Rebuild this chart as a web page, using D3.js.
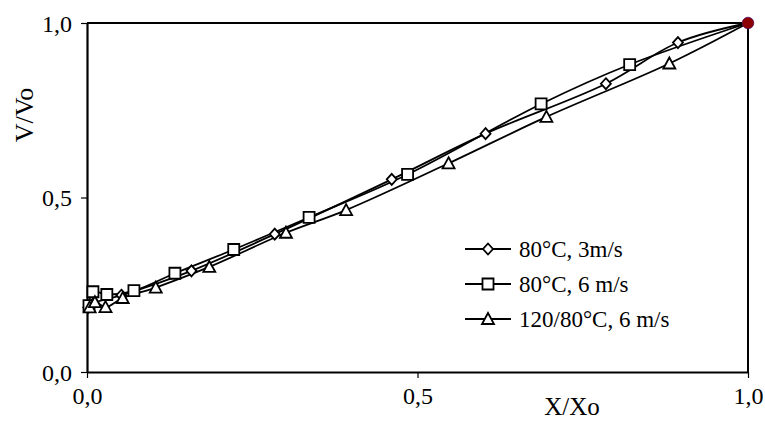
<!DOCTYPE html>
<html>
<head>
<meta charset="utf-8">
<script src="https://cdn.jsdelivr.net/npm/d3@7"></script>
<style>
  body { margin: 0; background: #fff; }
  svg text { font-family: "Liberation Serif", "Times New Roman", serif; fill: #000; }
</style>
</head>
<body>
<div id="chart"></div>
<script>
// Daten (X/Xo, V/Vo)
const seriesNames = ['80°C, 3m/s', '80°C, 6 m/s', '120/80°C, 6 m/s'];
const markerTypes = ['diamond', 'square', 'triangle'];

const diamondX = [0.002, 0.010, 0.052, 0.158, 0.284, 0.461, 0.603, 0.785, 0.894, 1.0];
const diamondY = [0.185, 0.197, 0.220, 0.290, 0.395, 0.552, 0.683, 0.826, 0.944, 1.0];

const squareX = [0.003, 0.009, 0.030, 0.071, 0.133, 0.222, 0.336, 0.485, 0.687, 0.821, 1.0];
const squareY = [0.190, 0.230, 0.222, 0.233, 0.283, 0.351, 0.443, 0.566, 0.768, 0.881, 1.0];

const triangleX = [0.004, 0.012, 0.028, 0.054, 0.104, 0.185, 0.301, 0.392, 0.547, 0.695, 0.881, 1.0];
const triangleY = [0.185, 0.200, 0.186, 0.212, 0.242, 0.301, 0.399, 0.464, 0.598, 0.731, 0.884, 1.0];

const xTicks = [0, 0.5, 1];
const yTicks = [0, 0.5, 1];
const endPoint = [1.0, 1.0];

const seriesData = [
  diamondX.map((x, i) => ({ x, y: diamondY[i] })),
  squareX.map((x, i) => ({ x, y: squareY[i] })),
  triangleX.map((x, i) => ({ x, y: triangleY[i] }))
];

// Abmessungen
const width = 765, height = 421;
const margin = { top: 23, right: 17, bottom: 49, left: 87 };
const innerW = width - margin.left - margin.right,
      innerH = height - margin.top - margin.bottom;

const svg = d3.select('#chart')
  .append('svg')
  .attr('width', width)
  .attr('height', height);

const g = svg.append('g')
  .attr('transform', `translate(${margin.left},${margin.top})`);

const x = d3.scaleLinear().domain([0, 1]).range([0, innerW]);
const y = d3.scaleLinear().domain([0, 1]).range([innerH, 0]);

const fmt = d => d3.format('.1f')(d).replace('.', ',');

// Rahmen oben und rechts
g.append('path')
  .attr('d', `M0,0H${innerW}V${innerH}`)
  .attr('fill', 'none')
  .attr('stroke', '#000')
  .attr('stroke-width', 2);

// Achsen
const xAxis = g.append('g')
  .attr('transform', `translate(0,${innerH})`)
  .call(d3.axisBottom(x).tickValues(xTicks).tickSize(6).tickSizeOuter(0).tickFormat(fmt));
const yAxis = g.append('g')
  .call(d3.axisLeft(y).tickValues(yTicks).tickSize(6).tickSizeOuter(0).tickFormat(fmt));

[xAxis, yAxis].forEach(a => {
  a.select('.domain').attr('stroke-width', 2.2);
  a.selectAll('.tick line').attr('stroke-width', 1.2);
  a.selectAll('.tick text')
    .style('font-size', '24px')
    .style('font-family', '"Liberation Serif", serif');
});
xAxis.selectAll('.tick text').attr('y', 15).attr('dy', '0.71em');
yAxis.selectAll('.tick text').attr('x', -15).attr('dy', '0.35em');

// Achsenbeschriftungen
g.append('text')
  .attr('x', 485)
  .attr('y', innerH + 43)
  .attr('text-anchor', 'middle')
  .style('font-size', '25px')
  .text('X/Xo');

svg.append('text')
  .attr('transform', 'rotate(-90)')
  .attr('x', -115)
  .attr('y', 33)
  .attr('text-anchor', 'middle')
  .style('font-size', '26px')
  .text('V/Vo');

// Linien (geglättet wie in Excel)
const line = d3.line()
  .x(d => x(d.x))
  .y(d => y(d.y))
  .curve(d3.curveCatmullRom.alpha(0.5));

g.selectAll('.series-line')
  .data(seriesData)
  .enter().append('path')
  .attr('class', 'series-line')
  .attr('d', line)
  .attr('fill', 'none')
  .attr('stroke', '#000')
  .attr('stroke-width', 1.8);

// Marker-Symbole
function markerPath(type) {
  if (type === 'diamond') return 'M0,-5.5L5,0L0,5.5L-5,0Z';
  if (type === 'square') return 'M-5.5,-5.5H5.5V5.5H-5.5Z';
  return 'M0,-6L6,5H-6Z';
}

seriesData.forEach((data, s) => {
  g.append('g')
    .selectAll('path')
    .data(data.slice(0, -1))
    .enter().append('path')
    .attr('transform', d => `translate(${x(d.x)},${y(d.y)})`)
    .attr('d', markerPath(markerTypes[s]))
    .attr('fill', '#fff')
    .attr('stroke', '#000')
    .attr('stroke-width', 1.8);
});

// Endpunkt
g.append('circle')
  .attr('cx', x(endPoint[0]))
  .attr('cy', y(endPoint[1]))
  .attr('r', 5.8)
  .attr('fill', '#8b0000')
  .attr('stroke', '#5a1060')
  .attr('stroke-width', 0.8);

// Legende
const legend = svg.append('g')
  .attr('transform', 'translate(465, 249)');

const legendItem = legend.selectAll('.legend-item')
  .data(seriesNames)
  .enter().append('g')
  .attr('class', 'legend-item')
  .attr('transform', (d, i) => `translate(0, ${i * 35})`);

legendItem.append('line')
  .attr('x1', 0).attr('x2', 46)
  .attr('stroke', '#000')
  .attr('stroke-width', 1.8);

legendItem.append('path')
  .attr('transform', 'translate(23,0)')
  .attr('d', (d, i) => markerPath(markerTypes[i]))
  .attr('fill', '#fff')
  .attr('stroke', '#000')
  .attr('stroke-width', 1.8);

legendItem.append('text')
  .attr('x', 54)
  .attr('dy', '0.33em')
  .style('font-size', '23px')
  .text(d => d);
</script>
</body>
</html>
